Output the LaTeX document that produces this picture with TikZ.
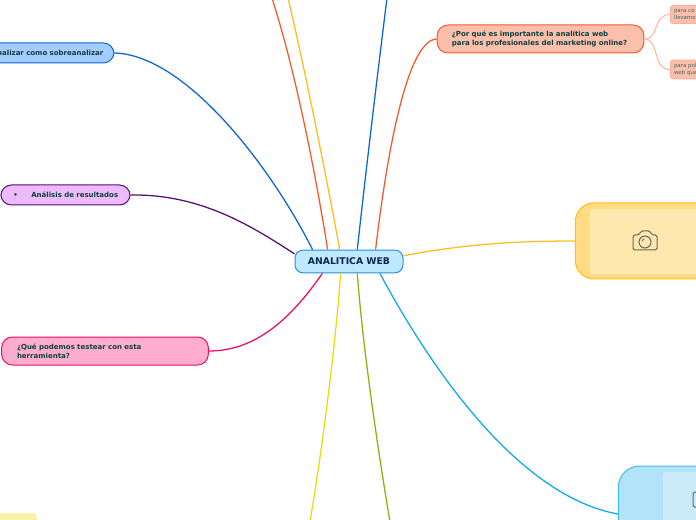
\documentclass[tikz,border=0pt]{standalone}
\usepackage{fontspec}
\setmainfont{DejaVu Sans}
\usepackage{xcolor}
\definecolor{inkdark}{HTML}{0E3F3F}
\definecolor{hubink}{HTML}{0B2450}
\begin{document}
\begin{tikzpicture}[
x=0.75pt,y=-0.75pt,
hubbox/.style={rounded corners=6pt,line width=0.75pt,align=center,font=\bfseries\fontsize{6.95}{8}\selectfont,text=hubink,inner sep=0pt},
topic/.style={rounded corners=8pt,line width=0.75pt,font=\bfseries\fontsize{5.25}{6.9}\selectfont,text=inkdark,inner ysep=0pt,inner xsep=0pt},
leaf/.style={draw=leafline,fill=leaffill,rounded corners=2pt,line width=0.75pt,font=\fontsize{4.1}{4.9}\selectfont,text=inkdark!80,inner sep=0pt},
link/.style={line width=0.95pt}
]
\definecolor{hubfill}{HTML}{BFE9FF}
\definecolor{hubline}{HTML}{2A8FD6}
\definecolor{leafline}{HTML}{FFB39E}
\definecolor{leaffill}{HTML}{FBBFAB}
\definecolor{redline}{HTML}{F4592C}
\definecolor{goldline}{HTML}{FFBE1C}
\definecolor{blueline}{HTML}{0B65D8}
\definecolor{bluefill}{HTML}{A3CCFF}
\definecolor{skyline}{HTML}{0FA9EA}
\definecolor{plumline}{HTML}{560F6E}
\definecolor{plumfill}{HTML}{EDBBFB}
\definecolor{pinkline}{HTML}{EB0B6A}
\definecolor{pinkfill}{HTML}{FFADCF}
\definecolor{lemonline}{HTML}{F0D80E}
\definecolor{greenline}{HTML}{86B40A}
\tikzset{camera/.pic={
  \draw[line width=0.75pt,draw=black!60,rounded corners=1.2pt] (-12,10) -- (-12,-5) -- (-6,-5) -- (-4,-9) -- (5,-9) -- (7,-5) -- (12,-5) -- (12,10) -- cycle;
  \draw[line width=0.75pt,draw=black!60] (0,2) circle (6);
  \draw[line width=0.6pt,draw=black!60] (-3,1) -- (-1,-1);
}}
\useasboundingbox (0,0) rectangle (696,520);
% central topic
\node[hubbox,draw=hubline,fill=hubfill,minimum width=81pt,minimum height=17pt] (hub) at (349,261.5) {ANALITICA WEB};
% main branches
\node[topic,draw=redline,fill=leaffill,minimum width=155pt,minimum height=21pt,text width=133pt,align=left] (why) at (540.5,39) {¿Por qué es importante la analítica web\\para los profesionales del marketing online?};
\node[leaf,minimum width=37pt,minimum height=13.5pt,text width=31.5pt,align=left] (whya) at (695,14.5) {para co\\llevamo};
\node[leaf,minimum width=37pt,minimum height=14pt,text width=31.5pt,align=left] (whyb) at (695,69.5) {para pol\\web que};
\node[topic,draw=blueline,fill=bluefill,minimum width=123pt,minimum height=15pt,text width=107pt,align=right] (over) at (32,53) {nalizar como sobreanalizar};
\node[topic,draw=plumline,fill=plumfill,minimum width=97pt,minimum height=15pt,text width=86pt,align=left] (results) at (65.5,195) {\hspace*{4pt}\textbullet\hspace{10pt}Análisis de resultados};
\node[topic,draw=pinkline,fill=pinkfill,minimum width=155pt,minimum height=21pt,text width=132pt,align=left] (test) at (105,351) {¿Qué podemos testear con esta\\herramienta?};
% image topics
\node[draw=goldline,fill=goldline!55!white,rounded corners=14pt,line width=0.75pt,minimum width=112pt,minimum height=57pt,inner sep=0pt] (photoa) at (650,241) {};
\node[fill=goldline!36!white,rounded corners=2pt,minimum width=101pt,minimum height=49pt,inner sep=0pt] (innera) at (657,241.5) {};
\pic at (645,240) {camera};
\node[draw=skyline!80!white,fill=skyline!32!white,rounded corners=16pt,line width=0.75pt,minimum width=100pt,minimum height=72pt,inner sep=0pt] (photob) at (685,514) {};
\node[fill=skyline!22!white,rounded corners=2pt,minimum width=60pt,minimum height=60pt,inner sep=0pt] (innerb) at (703,512) {};
\pic at (705,497) {camera};
\node[draw=lemonline!50!white,fill=lemonline!35!white,rounded corners=2pt,line width=0.75pt,minimum width=42pt,minimum height=12pt,inner sep=0pt] (note) at (8,522) {};
% free ends of the cut branches
\coordinate (topred) at (272,-2);
\coordinate (topgold) at (288,-2);
\coordinate (topblue) at (387,-2);
\coordinate (lowlemon) at (310,522);
\coordinate (lowgreen) at (390,522);
% connectors
\draw[link,redline] (hub.151) .. controls (315,170) and (295,70) .. (topred);
\draw[link,goldline] (hub.128) .. controls (325,170) and (305,70) .. (topgold);
\draw[link,blueline] (hub.55) .. controls (366,170) and (378,70) .. (topblue);
\draw[link,redline] (hub.24.7) .. controls (385,170) and (405,40) .. (why.west);
\draw[link,leafline,line width=0.75pt] (why.east) .. controls (660,39) and (652,15) .. (whya.west);
\draw[link,leafline,line width=0.75pt] (why.east) .. controls (660,39) and (652,70) .. (whyb.west);
\draw[link,blueline] (over.east) .. controls (185,55) and (270,165) .. (hub.162.7);
\draw[link,plumline] (results.east) .. controls (200,194) and (250,225) .. (hub.172.7);
\draw[link,pinkline] (test.east) .. controls (255,351) and (290,320) .. (hub.204.7);
\draw[link,goldline] (hub.6) .. controls (460,245) and (510,241) .. (photoa.west);
\draw[link,skyline] (hub.-21) .. controls (440,385) and (525,497) .. (photob.west);
\draw[link,lemonline] (hub.-125) .. controls (335,350) and (322,450) .. (lowlemon);
\draw[link,greenline] (hub.-55) .. controls (363,350) and (378,450) .. (lowgreen);
\end{tikzpicture}
\end{document}
